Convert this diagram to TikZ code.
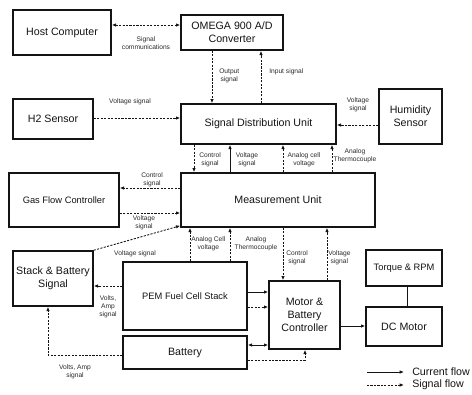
\documentclass[tikz,border=0pt]{standalone}
\usepackage{fontspec}
\setmainfont{Liberation Sans}
\usepackage{xcolor}
\usepackage{tikz}
\usetikzlibrary{positioning,arrows.meta,calc}
\definecolor{DAQink}{HTML}{141414}
\definecolor{DAQtext}{HTML}{2B2B2B}
\tikzset{
  unitbox/.style 2 args={draw=DAQink, line width=1.1pt, fill=white, align=center, minimum width=#1*0.75pt, minimum height=#2*0.75pt, inner sep=1pt, font=\fontsize{8}{9.6}\selectfont, text=DAQink},
  smallunit/.style={font=\fontsize{7}{8.4}\selectfont},
  siglabel/.style={align=center, inner sep=0pt, font=\fontsize{5}{5.9}\selectfont, text=DAQtext},
  legendtext/.style={inner sep=0pt, inner xsep=6pt, font=\fontsize{8}{9.6}\selectfont, text=DAQink},
  curarr/.style={->, line width=0.65pt, draw=DAQink},
  sigarr/.style={curarr, dash pattern=on 1.6pt off 1pt},
  plainlink/.style={line width=0.65pt, draw=DAQink}
}
\begin{document}
\begin{tikzpicture}[x=0.75pt, y=-0.75pt, >={Latex[length=3.2pt,width=2.6pt]}]
  \useasboundingbox (0,0) rectangle (472,394);
  \node[unitbox={98}{45}] (host) at (62,32.5) {Host Computer};
  \node[unitbox={102}{35}] (omega) at (232,32.5) {OMEGA 900 A/D\\Converter};
  \node[unitbox={155}{40}] (sdu) at (258.5,124) {Signal Distribution Unit};
  \node[unitbox={80}{40}] (htwo) at (53,119) {H2 Sensor};
  \node[unitbox={63}{55}] (humid) at (410.5,116.5) {Humidity\\Sensor};
  \node[unitbox={194}{54}] (meas) at (278,200) {Measurement Unit};
  \node[unitbox={110}{54}, smallunit] (gasflow) at (64,200) {Gas Flow Controller};
  \node[unitbox={80}{55}] (sbsig) at (53,278.5) {Stack \& Battery\\Signal};
  \node[unitbox={124}{68}, smallunit] (pem) at (185,296) {PEM Fuel Cell Stack};
  \node[unitbox={124}{33}] (batt) at (185,352.5) {Battery};
  \node[unitbox={71}{68}] (mbc) at (304.5,315) {Motor \&\\Battery\\Controller};
  \node[unitbox={76}{36}, smallunit] (torque) at (404,268) {Torque \& RPM};
  \node[unitbox={76}{39}] (dcmotor) at (404,326.5) {DC Motor};

  \draw[sigarr,<->] (host.east |- 0,25) -- (omega.west |- 0,25);
  \draw[sigarr] (omega.south -| 212,0) -- (sdu.north -| 212,0); \draw[sigarr] (sdu.north -| 261,0) -- (omega.south -| 261,0);
  \draw[sigarr] (htwo.east |- 0,118) -- (sdu.west |- 0,118); \draw[sigarr] (humid.west |- 0,125) -- (sdu.east |- 0,125);
  \draw[sigarr] (sdu.south -| 194,0) -- (meas.north -| 194,0); \draw[curarr] (meas.north -| 230,0) -- (sdu.south -| 230,0);
  \draw[sigarr] (meas.north -| 283,0) -- (sdu.south -| 283,0); \draw[sigarr] (meas.north -| 332,0) -- (sdu.south -| 332,0);
  \draw[sigarr] (meas.west |- 0,188) -- (gasflow.east |- 0,188); \draw[sigarr] (gasflow.east |- 0,213) -- (meas.west |- 0,213);
  \draw[sigarr] (sbsig.north east) -- ($(meas.south west)+(0,-2)$);
  \draw[sigarr] (pem.north -| 190,0) -- (meas.south -| 190,0); \draw[sigarr] (pem.north -| 230,0) -- (meas.south -| 230,0);
  \draw[sigarr] (meas.south -| 283,0) -- (mbc.north -| 283,0); \draw[sigarr] (mbc.north -| 327,0) -- (meas.south -| 327,0);
  \draw[curarr] (pem.east |- 0,292) -- (mbc.west |- 0,292); \draw[sigarr] (pem.east |- 0,307) -- (mbc.west |- 0,307);
  \draw[curarr,<->] (batt.east |- 0,345) -- (mbc.west |- 0,345); \draw[sigarr] (batt.east |- 0,360) -| (mbc.south -| 305,0);
  \draw[sigarr] (pem.west |- 0,286) -- (sbsig.east |- 0,286); \draw[sigarr] (batt.west |- 0,355) -| (sbsig.south -| 48,0);
  \draw[curarr] (mbc.east |- 0,326) -- (dcmotor.west |- 0,326); \draw[plainlink] (torque.south -| 407,0) -- (dcmotor.north -| 407,0);

  \node[siglabel] (lcomm) at (146,43) {Signal\\communications};
  \node[siglabel, anchor=west] (lout) at (219,76) {Output\\signal};
  \node[siglabel, anchor=west] (lin) at (269,72) {Input signal};
  \node[siglabel] (lhtwo) at (130,102) {Voltage signal};
  \node[siglabel] (lhum) at (358,105) {Voltage\\signal};
  \node[siglabel] (lctl) at (210,160) {Control\\signal};
  \node[siglabel] (lvolt) at (247,160) {Voltage\\signal};
  \node[siglabel] (lcell) at (304,160) {Analog cell\\voltage};
  \node[siglabel] (lthermo) at (355,156) {Analog\\Thermocouple};
  \node[siglabel] (lgasctl) at (152,180) {Control\\signal};
  \node[siglabel] (lgasvolt) at (144,223) {Voltage\\signal};
  \node[siglabel] (lsbvolt) at (135,254) {Voltage signal};
  \node[siglabel, anchor=west] (lpemcell) at (191,244) {Analog Cell\\voltage};
  \node[siglabel] (lpemthermo) at (256,244) {Analog\\Thermocouple};
  \node[siglabel] (lmbcctl) at (297,258) {Control\\signal};
  \node[siglabel, anchor=west] (lmbcvolt) at (328,258) {Voltage\\signal};
  \node[siglabel] (lpemsb) at (108,307) {Volts,\\Amp\\signal};
  \node[siglabel] (lbatsb) at (75,372) {Volts, Amp\\signal};

  \coordinate (curstart) at (367,372); \coordinate (sigstart) at (367,385);
  \node[legendtext, anchor=west] (curflow) at (404,372) {Current flow};
  \node[legendtext, anchor=west] (sigflow) at (404,385) {Signal flow};
  \draw[curarr] (curstart) -- (curflow.west); \draw[sigarr] (sigstart) -- (sigflow.west);
\end{tikzpicture}
\end{document}
